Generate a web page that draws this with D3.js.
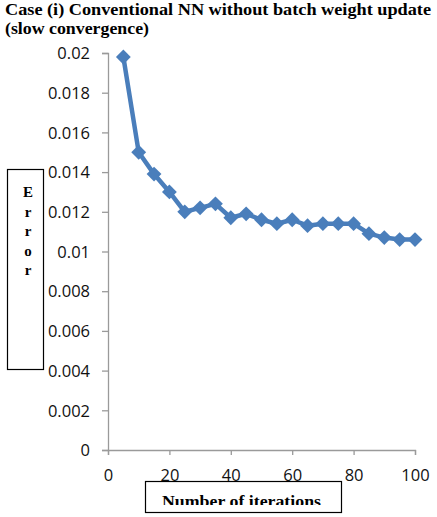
<!DOCTYPE html>
<html><head><meta charset="utf-8">
<script src="https://cdn.jsdelivr.net/npm/d3@7"></script>
<style>body{margin:0;background:#fff}svg{display:block}</style>
</head><body>
<script>
const iterations = [5,10,15,20,25,30,35,40,45,50,55,60,65,70,75,80,85,90,95,100];
const errorValues = [0.0198,0.0150,0.0139,0.0130,0.0120,0.0122,0.0124,0.0117,0.0119,0.0116,0.0114,0.0116,0.0113,0.0114,0.0114,0.0114,0.0109,0.0107,0.0106,0.0106];
const xTicks = [0,20,40,60,80,100];
const yTicks = [0,0.002,0.004,0.006,0.008,0.01,0.012,0.014,0.016,0.018,0.02];
const titleLines = ["Case (i) Conventional NN without batch weight update","(slow convergence)"];
const yLabel = ["E","r","r","o","r"];
const xLabel = "Number of iterations";

const W=437,H=517;
const svg=d3.select("body").append("svg").attr("width",W).attr("height",H);
const x=d3.scaleLinear().domain([0,100]).range([108,415]);
const y=d3.scaleLinear().domain([0,0.02]).range([450,53]);

const titleW=[426,144];
svg.selectAll(".title").data(titleLines).enter().append("text")
 .attr("x",5).attr("y",(d,i)=>15+i*18.5)
 .attr("font-family","Liberation Serif").attr("font-weight","bold").attr("font-size",16)
 .attr("textLength",(d,i)=>titleW[i]).attr("lengthAdjust","spacingAndGlyphs")
 .attr("fill","#000").text(d=>d);

const gy=svg.append("g").attr("transform","translate(108,0)")
 .call(d3.axisLeft(y).tickValues(yTicks).tickSize(6).tickPadding(12).tickFormat(d=>d===0?"0":String(+d.toFixed(3))));
const gx=svg.append("g").attr("transform","translate(0,450)")
 .call(d3.axisBottom(x).tickValues(xTicks).tickSize(5).tickPadding(14));
[gy,gx].forEach(g=>{
 g.select(".domain").attr("stroke","#9a9a9a").attr("stroke-width",1.3);
 g.selectAll(".tick line").attr("stroke","#9a9a9a").attr("stroke-width",1.3);
 g.selectAll(".tick text").attr("font-family","Open Sans, Liberation Sans").attr("font-size",16.5).attr("fill","#111");
});
gy.selectAll(".tick text").attr("dy","0.35em");

const pts=iterations.map((d,i)=>[d,errorValues[i]]);
svg.append("path").datum(pts)
 .attr("d",d3.line().x(d=>x(d[0])).y(d=>y(d[1])))
 .attr("fill","none").attr("stroke","#4a7ebb").attr("stroke-width",4.5).attr("stroke-linejoin","round");
svg.selectAll(".pt").data(pts).enter().append("path")
 .attr("transform",d=>`translate(${x(d[0])},${y(d[1])})`)
 .attr("d",d3.symbol(d3.symbolDiamond2,140))
 .attr("fill","#4a7ebb");

// y label box
svg.append("rect").attr("x",7.5).attr("y",169.5).attr("width",36).attr("height",200)
 .attr("fill","#fff").attr("stroke","#000").attr("stroke-width",1.2);
svg.selectAll(".yl").data(yLabel).enter().append("text")
 .attr("x",28).attr("y",(d,i)=>197+i*19.5).attr("text-anchor","middle")
 .attr("font-family","Liberation Serif").attr("font-weight","bold").attr("font-size",15).text(d=>d);

// x label box
svg.append("defs").append("clipPath").attr("id","xc").append("rect").attr("x",145).attr("y",481).attr("width",197).attr("height",24);
svg.append("rect").attr("x",145.5).attr("y",481.5).attr("width",196).attr("height",31)
 .attr("fill","#fff").attr("stroke","#000").attr("stroke-width",1.2);
svg.append("text").attr("clip-path","url(#xc)").attr("x",162).attr("y",507)
 .attr("textLength",159).attr("lengthAdjust","spacingAndGlyphs")
 .attr("font-family","Liberation Serif").attr("font-weight","bold").attr("font-size",16).text(xLabel);
</script>
</body></html>
